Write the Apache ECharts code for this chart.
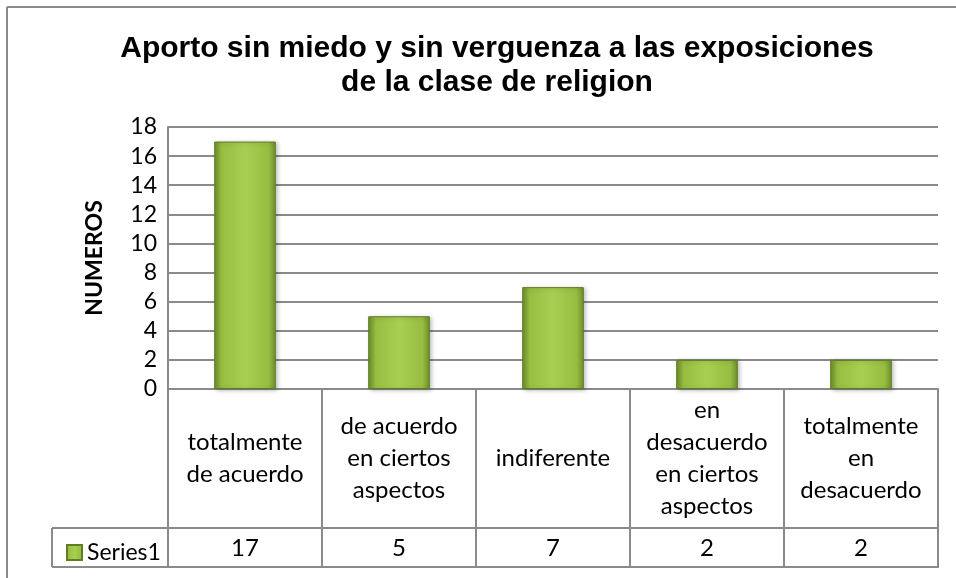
<!DOCTYPE html>
<html>
<head>
<meta charset="utf-8">
<script src="https://cdn.jsdelivr.net/npm/echarts@6/dist/echarts.min.js"></script>
<style>
  html, body { margin: 0; padding: 0; background: #fff; }
  #chart { width: 956px; height: 578px; }
</style>
</head>
<body>
<div id="chart"></div>
<script>
// data
const categories = [
  'totalmente\nde acuerdo',
  'de acuerdo\nen ciertos\naspectos',
  'indiferente',
  'en\ndesacuerdo\nen ciertos\naspectos',
  'totalmente\nen\ndesacuerdo'
];
const series1 = [17, 5, 7, 2, 2];
const seriesName = 'Series1';
const yTicks = { min: 0, max: 18, interval: 2 };

const lineColor = '#8a8a8a';
const font = 'Lato, "Noto Sans", sans-serif';

const chart = echarts.init(document.getElementById('chart'));

const barFill = new echarts.graphic.LinearGradient(0, 0, 1, 0, [
  { offset: 0, color: '#6f8f2c' },
  { offset: 0.12, color: '#97bd41' },
  { offset: 0.5, color: '#a9cf52' },
  { offset: 0.88, color: '#97bd41' },
  { offset: 1, color: '#6f8f2c' }
]);

const option = {
  animation: false,
  backgroundColor: '#fff',
  title: {
    text: 'Aporto sin miedo y sin verguenza a las exposiciones\nde la clase de religion',
    left: 492,
    top: 27,
    textAlign: 'center',
    textStyle: {
      fontFamily: '"Liberation Sans", Arial, sans-serif',
      fontWeight: 'bold',
      fontSize: 30,
      lineHeight: 34,
      color: '#000'
    }
  },
  legend: {
    left: 61,
    top: 536,
    itemWidth: 15,
    itemHeight: 15,
    itemGap: 6,
    icon: 'rect',
    data: [seriesName],
    textStyle: { fontFamily: font, fontSize: 23, color: '#000' }
  },
  grid: { left: 168, right: 18, top: 127, bottom: 189 },
  xAxis: [
    {
      type: 'category',
      data: categories,
      axisLine: { lineStyle: { color: lineColor, width: 2 } },
      axisTick: { show: true, interval: 0, length: 179, lineStyle: { color: lineColor, width: 2 } },
      axisLabel: {
        interval: 0,
        margin: 69,
        verticalAlign: 'middle',
        fontFamily: font,
        fontSize: 24,
        lineHeight: 32,
        color: '#000'
      }
    },
    {
      type: 'category',
      position: 'bottom',
      offset: 139,
      data: series1.map(String),
      axisLine: { lineStyle: { color: lineColor, width: 2 } },
      axisTick: { show: false },
      axisLabel: {
        interval: 0,
        margin: 20,
        verticalAlign: 'middle',
        fontFamily: font,
        fontSize: 24,
        color: '#000'
      }
    },
    {
      type: 'category',
      position: 'bottom',
      offset: 178,
      data: categories,
      axisLine: { lineStyle: { color: lineColor, width: 2 } },
      axisTick: { show: false },
      axisLabel: { show: false }
    }
  ],
  yAxis: {
    type: 'value',
    min: yTicks.min,
    max: yTicks.max,
    interval: yTicks.interval,
    name: 'NUMEROS',
    nameLocation: 'middle',
    nameGap: 62,
    nameRotate: 90,
    nameTextStyle: { fontFamily: font, fontWeight: 'bold', fontSize: 23, color: '#000' },
    axisLine: { show: true, lineStyle: { color: lineColor, width: 2 } },
    axisTick: { show: false },
    axisLabel: { fontFamily: font, fontSize: 23, color: '#000', margin: 11 },
    splitLine: { lineStyle: { color: lineColor, width: 2 } }
  },
  graphic: [
    // outer chart border (left and top only are visible)
    { type: 'line', shape: { x1: 7, y1: 7, x2: 7, y2: 578 }, style: { stroke: lineColor, lineWidth: 2 } },
    { type: 'line', shape: { x1: 7, y1: 7, x2: 956, y2: 7 }, style: { stroke: lineColor, lineWidth: 2 } },
    // legend cell of the data table
    { type: 'line', shape: { x1: 52, y1: 528, x2: 168, y2: 528 }, style: { stroke: lineColor, lineWidth: 2 } },
    { type: 'line', shape: { x1: 52, y1: 567, x2: 168, y2: 567 }, style: { stroke: lineColor, lineWidth: 2 } },
    { type: 'line', shape: { x1: 52, y1: 528, x2: 52, y2: 567 }, style: { stroke: lineColor, lineWidth: 2 } }
  ],
  series: [
    {
      name: seriesName,
      type: 'bar',
      data: series1,
      barWidth: '40%',
      itemStyle: {
        color: barFill,
        borderColor: '#5f7d24',
        borderWidth: 1,
        shadowColor: 'rgba(0,0,0,0.25)',
        shadowBlur: 4,
        shadowOffsetX: 2,
        shadowOffsetY: 1
      }
    }
  ]
};

chart.setOption(option);
</script>
</body>
</html>
